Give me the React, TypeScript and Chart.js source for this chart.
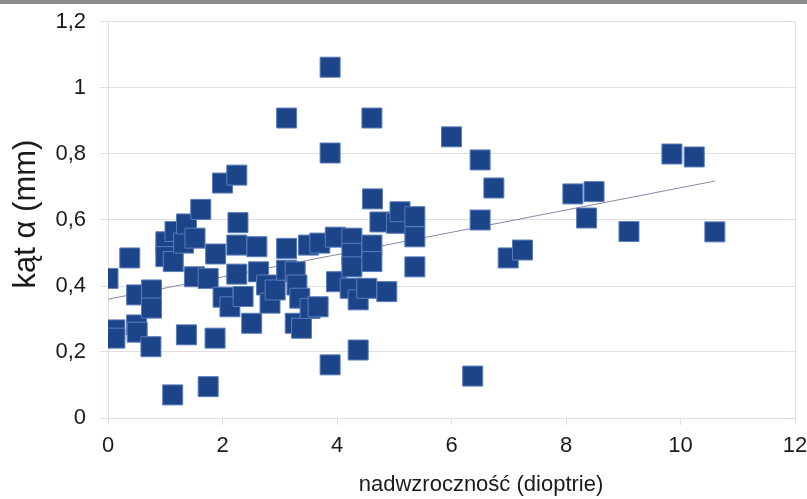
import React, { useEffect, useRef } from "react";
import { Chart, registerables } from "chart.js";

Chart.register(...registerables);

// nadwzroczność (dioptrie)
const hyperopiaD = [
  0.0, 0.12, 0.12, 0.38, 0.5, 0.5, 0.51, 0.76, 0.76, 0.75,
  1.01, 1.01, 1.14, 1.13, 1.17, 1.32, 1.37, 1.52, 1.37, 1.51,
  1.62, 1.75, 1.75, 1.88, 1.87,
  2.0, 2.01, 2.13, 2.25, 2.27, 2.25, 2.25, 2.36, 2.51, 2.6,
  2.63, 2.77, 2.83, 2.92,
  3.12, 3.12, 3.12, 3.27, 3.3, 3.35, 3.27, 3.38, 3.53, 3.67,
  3.5, 3.7, 3.97, 3.88, 3.88, 3.88,
  3.99, 4.26, 4.26, 4.26, 4.23, 4.37, 4.37, 4.52, 4.61, 4.61,
  4.62, 4.61, 4.87, 4.75, 5.04, 5.1,
  5.36, 5.36, 5.36, 6.0,
  6.37, 6.5, 6.5, 6.74, 6.99, 7.24, 8.12, 8.49, 8.36, 9.1,
  9.85, 10.24, 10.6,
];

// kąt α (mm)
const angleAlphaMm = [
  0.423, 0.267, 0.242, 0.485, 0.373, 0.282, 0.26, 0.388, 0.333, 0.216,
  0.534, 0.489, 0.474, 0.07, 0.565, 0.53, 0.588, 0.545, 0.252, 0.428,
  0.632, 0.423, 0.095, 0.497, 0.242,
  0.712, 0.366, 0.337, 0.736, 0.592, 0.524, 0.436, 0.368, 0.287, 0.519,
  0.443, 0.403, 0.348, 0.388,
  0.909, 0.514, 0.448, 0.443, 0.403, 0.363, 0.287, 0.272, 0.332, 0.337,
  0.524, 0.53, 0.548, 1.063, 0.803, 0.161,
  0.413, 0.545, 0.499, 0.458, 0.393, 0.358, 0.206, 0.393, 0.524, 0.474,
  0.664, 0.909, 0.383, 0.594, 0.59, 0.625,
  0.61, 0.549, 0.458, 0.852,
  0.127, 0.782, 0.6, 0.697, 0.485, 0.509, 0.679, 0.686, 0.606, 0.565,
  0.8, 0.791, 0.564,
];

// linia trendu
const trendX = [0, 10.6];
const trendY = [0.36, 0.718];

const xTickValues = [0, 2, 4, 6, 8, 10, 12];
const yTickLabels = ["0", "0,2", "0,4", "0,6", "0,8", "1", "1,2"];

const xTitle = "nadwzroczność (dioptrie)";
const yTitle = "kąt α (mm)";

const GRID = "#e3dddd";
const MARK = "#1c4488";
const MARK_BORDER = "#5a7cbc";
const TEXT = "#1a1a1a";
const FONT = '"Liberation Sans", Arial, sans-serif';

const axisTitlesPlugin = {
  id: "axisTitles",
  afterDraw(chart: any) {
    const { ctx } = chart;
    ctx.save();
    ctx.fillStyle = TEXT;
    ctx.font = `22px ${FONT}`;
    ctx.textAlign = "center";
    ctx.textBaseline = "middle";
    ctx.fillText(xTitle, 481, 485);
    ctx.translate(35, 214);
    ctx.rotate(-Math.PI / 2);
    ctx.font = `31px ${FONT}`;
    ctx.textBaseline = "alphabetic";
    ctx.fillText(yTitle, 0, 0);
    ctx.restore();
  },
};

export default function App() {
  const canvasRef = useRef<HTMLCanvasElement | null>(null);

  useEffect(() => {
    if (!canvasRef.current) return;
    const points = hyperopiaD.map((x, i) => ({ x, y: angleAlphaMm[i] }));
    const trend = trendX.map((x, i) => ({ x, y: trendY[i] }));

    const chart = new Chart(canvasRef.current, {
      type: "scatter",
      data: {
        datasets: [
          {
            label: "kąt α",
            data: points,
            pointStyle: "rect",
            pointRadius: 14.14,
            pointHoverRadius: 14.14,
            backgroundColor: MARK,
            borderColor: MARK_BORDER,
            borderWidth: 1,
            order: 0,
          },
          {
            label: "trend",
            data: trend,
            showLine: true,
            pointRadius: 0,
            borderColor: "#8a84a8",
            borderWidth: 1,
            order: 1,
          } as any,
        ],
      },
      options: {
        animation: false,
        responsive: false,
        maintainAspectRatio: false,
        layout: {
          autoPadding: false,
          padding: { top: 22, right: 12, bottom: 0, left: 0 },
        },
        plugins: {
          legend: { display: false },
          tooltip: { enabled: false },
        },
        scales: {
          x: {
            type: "linear",
            min: 0,
            max: 12,
            afterBuildTicks: (scale: any) => {
              scale.ticks = xTickValues.map((v) => ({ value: v }));
            },
            afterFit: (scale: any) => {
              scale.height = 81;
              scale.paddingLeft = 0;
              scale.paddingRight = 0;
            },
            ticks: {
              color: TEXT,
              font: { size: 22, family: FONT },
              padding: 8,
              maxRotation: 0,
            },
            grid: {
              color: (ctx: any) =>
                ctx.tick && ctx.tick.value === 12 ? GRID : "rgba(0,0,0,0)",
              tickColor: GRID,
              tickLength: 7,
              lineWidth: 1,
            },
            border: { display: true, color: GRID },
          },
          y: {
            type: "linear",
            min: 0,
            max: 1.2,
            afterBuildTicks: (scale: any) => {
              scale.ticks = yTickLabels.map((_, i) => ({ value: i * 0.2 }));
            },
            afterFit: (scale: any) => {
              scale.width = 108;
              scale.paddingTop = 0;
              scale.paddingBottom = 0;
            },
            ticks: {
              color: TEXT,
              font: { size: 22, family: FONT },
              padding: 14,
              callback: (_v: any, i: number) => yTickLabels[i],
            },
            grid: {
              color: GRID,
              tickColor: GRID,
              tickLength: 8,
              lineWidth: 1,
            },
            border: { display: true, color: GRID },
          },
        },
      },
      plugins: [axisTitlesPlugin],
    });

    return () => chart.destroy();
  }, []);

  return (
    <div
      style={{
        position: "fixed",
        left: 0,
        top: 0,
        width: 807,
        height: 499,
        background: "#ffffff",
        overflow: "hidden",
      }}
    >
      <canvas
        ref={canvasRef}
        width={807}
        height={499}
        style={{ display: "block", width: 807, height: 499 }}
      />
      <div
        style={{
          position: "absolute",
          left: 0,
          top: 0,
          width: 807,
          height: 4,
          background: "#8b8b8b",
        }}
      />
    </div>
  );
}
